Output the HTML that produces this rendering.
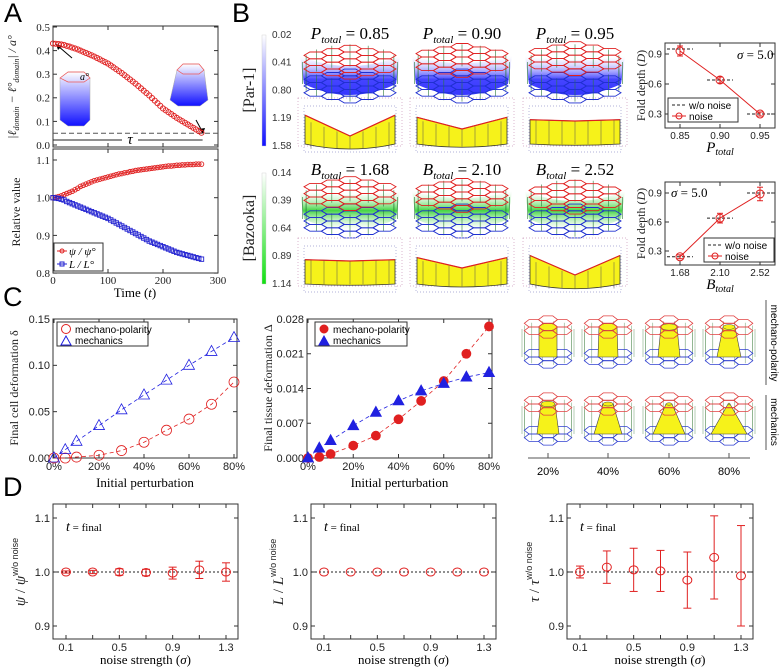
<!DOCTYPE html>
<html><head><meta charset="utf-8"><style>
html,body{margin:0;padding:0;background:#fff;}
svg{display:block;}
</style></head><body>
<svg id="fig" width="781" height="671" viewBox="0 0 781 671" xmlns="http://www.w3.org/2000/svg" font-family="'Liberation Sans', sans-serif">
<defs>
<linearGradient id="gBlue" x1="0" y1="0" x2="0" y2="1"><stop offset="0" stop-color="#fff"/><stop offset="1" stop-color="#1010ff"/></linearGradient>
<linearGradient id="gGreen" x1="0" y1="0" x2="0" y2="1"><stop offset="0" stop-color="#fff"/><stop offset="1" stop-color="#10e010"/></linearGradient>
<linearGradient id="gBlueT" x1="0" y1="0" x2="0" y2="1"><stop offset="0" stop-color="#fff" stop-opacity="0.2"/><stop offset="0.6" stop-color="#3030ff"/><stop offset="1" stop-color="#2020ff"/></linearGradient>
<linearGradient id="gGreenT" x1="0" y1="0" x2="0" y2="1"><stop offset="0" stop-color="#fff" stop-opacity="0.2"/><stop offset="0.5" stop-color="#30d030"/><stop offset="1" stop-color="#fff" stop-opacity="0.3"/></linearGradient>
</defs>
</svg>
<script>
// ---------- data ----------
const aTime = Array.from({length:55},(_, i)=>i*5);
const aDomain = [0.430,0.429,0.428,0.426,0.424,0.420,0.417,0.413,0.409,0.405,0.400,0.395,0.390,0.385,0.380,0.375,0.369,0.363,0.357,0.351,0.345,0.337,0.329,0.321,0.313,0.305,0.296,0.287,0.278,0.269,0.260,0.250,0.240,0.230,0.220,0.210,0.199,0.188,0.177,0.166,0.155,0.147,0.139,0.131,0.123,0.115,0.108,0.101,0.094,0.087,0.080,0.073,0.066,0.059,0.052];
const aPsi = [1.000,1.001,1.003,1.005,1.008,1.011,1.014,1.017,1.021,1.025,1.030,1.033,1.036,1.039,1.042,1.045,1.047,1.049,1.051,1.053,1.055,1.057,1.059,1.061,1.063,1.064,1.066,1.067,1.069,1.070,1.072,1.073,1.074,1.075,1.076,1.077,1.078,1.079,1.080,1.081,1.082,1.083,1.084,1.084,1.085,1.086,1.086,1.087,1.087,1.088,1.088,1.088,1.089,1.089,1.089];
const aL = [1.000,0.999,0.998,0.996,0.994,0.990,0.987,0.984,0.981,0.978,0.975,0.972,0.969,0.966,0.963,0.960,0.957,0.954,0.951,0.948,0.945,0.941,0.937,0.933,0.929,0.925,0.921,0.917,0.913,0.909,0.905,0.901,0.897,0.893,0.889,0.885,0.882,0.879,0.876,0.873,0.870,0.867,0.864,0.861,0.858,0.855,0.853,0.851,0.849,0.847,0.845,0.843,0.841,0.839,0.837];
const bPtotal = [0.85,0.90,0.95];
const bPnoise = [0.93,0.64,0.30];
const bPerr = [0.05,0.03,0.02];
const bPref = [0.95,0.64,0.30];
const bBtotal = [1.68,2.10,2.52];
const bBnoise = [0.24,0.64,0.89];
const bBerr = [0.02,0.05,0.07];
const bBref = [0.24,0.64,0.90];
const cPert = [0,5,10,20,30,40,50,60,70,80];
const cCellMP = [0,0,0.001,0.003,0.008,0.017,0.030,0.042,0.058,0.082];
const cCellMech = [0,0.009,0.018,0.035,0.052,0.068,0.084,0.100,0.115,0.130];
const cTisMP = [0,0.0002,0.0008,0.0025,0.0045,0.0078,0.0115,0.0155,0.0210,0.0265];
const cTisMech = [0,0.0020,0.0035,0.0065,0.0092,0.0115,0.0135,0.0150,0.0163,0.0172];
const dSigma = [0.1,0.3,0.5,0.7,0.9,1.1,1.3];
const dPsiMean = [1.000,1.000,1.000,0.999,0.998,1.004,1.000];
const dPsiErr = [0.002,0.003,0.006,0.006,0.011,0.016,0.017];
const dLMean = [1,1,1,1,1,1,1];
const dLErr = [0,0,0,0,0,0,0];
const dTauMean = [1.000,1.009,1.004,1.002,0.985,1.027,0.993];
const dTauErr = [0.011,0.030,0.040,0.038,0.052,0.077,0.093];

// ---------- helpers ----------
const NS='http://www.w3.org/2000/svg';
const svg=document.getElementById('fig');
function mk(tag,attrs,parent){const e=document.createElementNS(NS,tag);for(const k in attrs)e.setAttribute(k,attrs[k]);(parent||svg).appendChild(e);return e;}
function txt(x,y,s,attrs,parent){const e=mk('text',Object.assign({x:x,y:y},attrs||{}),parent);e.textContent=s;return e;}
function group(){return mk('g',{});}
function frame(g,x0,y0,x1,y1){const r=mk('rect',{x:x0,y:y0,width:x1-x0,height:y1-y0,fill:'none',stroke:'#333','stroke-width':1},g);

}
function yTicks(g,vals,labels,sy,x0,x1,font,size){vals.forEach((v,i)=>{const y=sy(v);
mk('line',{x1:x0,y1:y,x2:x0+4,y2:y,stroke:'#333'},g);mk('line',{x1:x1,y1:y,x2:x1-4,y2:y,stroke:'#333'},g);
const t=txt(x0-3,y+size*0.35,labels[i],{'text-anchor':'end','font-size':size,'font-family':font,fill:'#222'},g);

});}
function xTicks(g,vals,labels,sx,y0,y1,font,size,dy){vals.forEach((v,i)=>{const x=sx(v);
mk('line',{x1:x,y1:y1,x2:x,y2:y1-4,stroke:'#333'},g);mk('line',{x1:x,y1:y0,x2:x,y2:y0+4,stroke:'#333'},g);
const t=txt(x,y1+dy,labels[i],{'text-anchor':'middle','font-size':size,'font-family':font,fill:'#222'},g);

});}
function vlabel(g,x,y,s,size,font,style){const t=txt(0,0,s,{transform:`translate(${x},${y}) rotate(-90)`,'text-anchor':'middle','font-size':size,'font-family':font,fill:'#222','font-style':style||'normal'},g);return t;}
const SERIF="'Liberation Serif', serif", SANS="'Liberation Sans', sans-serif";

// panel letters
[['A',4,22],['B',232,22],['C',3,306],['D',3,496]].forEach(p=>{const t=txt(p[1],p[2],p[0],{'font-size':27,fill:'#000'});

});

// ---------- Panel A top ----------
(function(){
const g=group();
const sx=t=>53+t*165/300, sy=v=>145-v*236;
frame(g,53,26,218,147);
yTicks(g,[0,0.1,0.2,0.3,0.4,0.5],['0.0','0.1','0.2','0.3','0.4','0.5'],sy,53,218,SERIF,11);
[100,200].forEach(t=>{mk('line',{x1:sx(t),y1:147,x2:sx(t),y2:143,stroke:'#333'},g);mk('line',{x1:sx(t),y1:26,x2:sx(t),y2:30,stroke:'#333'},g);});
const th=mk('line',{x1:53,y1:sy(0.05),x2:218,y2:sy(0.05),stroke:'#555','stroke-dasharray':'5,3'},g);


mk('line',{x1:53,y1:140,x2:122,y2:140,stroke:'#222'},g);mk('line',{x1:138,y1:140,x2:sx(272),y2:140,stroke:'#222'},g);
const tau=txt(130,144,'τ',{'text-anchor':'middle','font-size':15,'font-family':SERIF,'font-style':'italic'},g);


const p1=mk('polygon',{points:'60,78 68,72 84,72 90,78 90,120 84,126 68,126 60,120',fill:'url(#gBlue)',stroke:'#aaa','stroke-width':0.5},g);


mk('polygon',{points:'60,78 68,72 84,72 90,78 84,82 68,82',fill:'none',stroke:'#e55','stroke-width':0.7},g);
txt(80,80,'a°',{'font-size':10,'font-family':SERIF,'font-style':'italic'},g);
const p2=mk('polygon',{points:'177,70 183,64 199,64 204,70 208,100 200,106 178,106 170,100',fill:'url(#gBlue)',stroke:'#aaa','stroke-width':0.5},g);


mk('polygon',{points:'177,70 183,64 199,64 204,70 199,74 183,74',fill:'none',stroke:'#e55','stroke-width':0.7},g);
mk('line',{x1:72,y1:58,x2:58,y2:46,stroke:'#000','stroke-width':1},g);mk('polygon',{points:'56,44 62,46 58,50',fill:'#000'},g);
mk('line',{x1:196,y1:120,x2:202,y2:131,stroke:'#000','stroke-width':1},g);mk('polygon',{points:'203,134 199,129 205,128',fill:'#000'},g);
aTime.forEach((t,i)=>{const c=mk('circle',{cx:sx(t),cy:sy(aDomain[i]),r:2.6,fill:'none',stroke:'#e02020','stroke-width':0.9},g);

});
const yl=vlabel(g,16,87,'',12,SERIF,'italic');
yl.innerHTML='|ℓ<tspan font-size="8" dy="3">domain</tspan><tspan dy="-3"> − ℓ°</tspan><tspan font-size="8" dy="3">domain</tspan><tspan dy="-3">| / a°</tspan>';


})();

// ---------- Panel A bottom ----------
(function(){
const g=group();
const sx=t=>53+t*165/300, sy=v=>160+(1.1-v)*377;
frame(g,53,149,218,273);
yTicks(g,[0.8,0.9,1.0,1.1],['0.8','0.9','1.0','1.1'],sy,53,218,SERIF,11);
xTicks(g,[0,100,200,300],['0','100','200','300'],sx,149,273,SERIF,11,11);
const pl=mk('polyline',{points:aTime.map((t,i)=>sx(t)+','+sy(aPsi[i])).join(' '),fill:'none',stroke:'#e02020','stroke-width':0.8},g);


aTime.forEach((t,i)=>{const c=mk('circle',{cx:sx(t),cy:sy(aPsi[i]),r:2.3,fill:'none',stroke:'#e02020','stroke-width':0.9},g);

});
aTime.forEach((t,i)=>{const c=mk('rect',{x:sx(t)-2.2,y:sy(aL[i])-2.2,width:4.4,height:4.4,fill:'none',stroke:'#2020d0','stroke-width':0.9},g);

});
const lg=mk('g',{},g);
mk('rect',{x:54,y:243,width:49,height:28,fill:'#fff',stroke:'#333'},lg);
mk('line',{x1:57,y1:251,x2:67,y2:251,stroke:'#e02020'},lg);mk('circle',{cx:62,cy:251,r:2,fill:'none',stroke:'#e02020'},lg);
txt(69,255,'ψ / ψ°',{'font-size':11,'font-family':SERIF,'font-style':'italic'},lg);
mk('line',{x1:57,y1:264,x2:67,y2:264,stroke:'#2020d0'},lg);mk('rect',{x:60,y:262,width:4,height:4,fill:'none',stroke:'#2020d0'},lg);
txt(69,268,'L / L°',{'font-size':11,'font-family':SERIF,'font-style':'italic'},lg);
const yl=vlabel(g,20,212,'Relative value',12,SERIF);


const xl=txt(135,297,'',{'text-anchor':'middle','font-size':13,'font-family':SERIF},g);
xl.innerHTML='Time (<tspan font-style="italic">t</tspan>)';


})();

// ---------- Panel B tissues ----------
function hexLattice(g,cx,cy,s,flat,R,color,w){
 for(let q=-R;q<=R;q++)for(let r=-R;r<=R;r++){if(Math.abs(q+r)>R)continue;
  const hx=cx+s*1.5*q, hy=cy+s*Math.sqrt(3)*(r+q/2)*flat;
  const pts=[];for(let k=0;k<6;k++){const a=Math.PI/3*k;pts.push((hx+s*Math.cos(a)).toFixed(1)+','+(hy+s*Math.sin(a)*flat).toFixed(1));}
  mk('polygon',{points:pts.join(' '),fill:'none',stroke:color,'stroke-width':w},g);}
}
function tissue(name,cx,cy,depth,grad,sag){
 const g=group();
 const rx=50, ry=22;
 mk('path',{d:`M${cx-rx},${cy-6} Q${cx},${cy+sag} ${cx+rx},${cy-6} L${cx+rx-4},${cy+depth} Q${cx},${cy+depth+ry} ${cx-rx+4},${cy+depth} Z`,fill:grad,opacity:0.9},g);
 for(let k=0;k<16;k++){const a=Math.PI*2*k/16;const x=cx+rx*0.95*Math.cos(a), y=cy+ry*0.8*Math.sin(a);
  mk('line',{x1:x,y1:y,x2:x,y2:y+depth,stroke:'#2a7a3a','stroke-width':0.6},g);}
 hexLattice(g,cx,cy+depth+2,11.5,0.34,2,'#2030d0',0.9);
 hexLattice(g,cx,cy-4+sag*0.3,11.5,0.34,2,'#e02020',0.9);
}
function crossSection(name,cx,cy,dip){
 const g=group();
 mk('rect',{x:cx-52,y:cy-30,width:104,height:48,fill:'none',stroke:'#c9b',"stroke-dasharray":'1,2','stroke-width':0.7},g);
 mk('rect',{x:cx-46,y:cy-22,width:92,height:46,fill:'none',stroke:'#99c',"stroke-dasharray":'1,2','stroke-width':0.7},g);
 const tL=cy-8+(dip>0?-dip*0.3:0), tC=cy-8+dip;
 mk('path',{d:`M${cx-45},${tL} L${cx},${tC} L${cx+45},${tL} L${cx+45},${cy+16} Q${cx},${cy+18+dip*0.5} ${cx-45},${cy+16} Z`,fill:'#f6f21a',stroke:'#333','stroke-width':0.8},g);
 for(let k=-3;k<=3;k++){const x=cx+k*13;mk('line',{x1:x,y1:cy-8+dip*(1-Math.abs(k)/3.5),x2:x,y2:cy+16+dip*0.3,stroke:'#555','stroke-width':0.5},g);}
 mk('line',{x1:cx-45,y1:tL,x2:cx,y2:tC,stroke:'#e02020','stroke-width':1.2},g);mk('line',{x1:cx,y1:tC,x2:cx+45,y2:tL,stroke:'#e02020','stroke-width':1.2},g);
}
const bCols=[350,462,575];
const pLabels=['0.85','0.90','0.95'], bLabels=['1.68','2.10','2.52'];
bCols.forEach((cx,i)=>{
 const t1=txt(cx,39,'',{'text-anchor':'middle','font-size':17,'font-family':SERIF});
 t1.innerHTML=`<tspan font-style="italic">P</tspan><tspan font-size="11" font-style="italic" dy="4">total</tspan><tspan dy="-4"> = ${pLabels[i]}</tspan>`;
 
 
 const t2=txt(cx,175,'',{'text-anchor':'middle','font-size':17,'font-family':SERIF});
 t2.innerHTML=`<tspan font-style="italic">B</tspan><tspan font-size="11" font-style="italic" dy="4">total</tspan><tspan dy="-4"> = ${bLabels[i]}</tspan>`;
 
 
 tissue('par1-tissue',cx,62,22,'url(#gBlueT)',[14,8,2][i]);
 crossSection('par1-cross-section',cx,128,[16,9,1][i]);
 tissue('bazooka-tissue',cx,197,22,'url(#gGreenT)',[2,8,14][i]);
 crossSection('bazooka-cross-section',cx,268,[1,8,15][i]);
});
[['par1',35,'url(#gBlue)',['0.02','0.41','0.80','1.19','1.58'],'[Par-1]',90],['bazooka',173,'url(#gGreen)',['0.14','0.39','0.64','0.89','1.14'],'[Bazooka]',228]].forEach(c=>{
 const r=mk('rect',{x:262,y:c[1],width:4,height:111,fill:c[2],stroke:'#ccc','stroke-width':0.4});
 
 
 c[3].forEach((l,i)=>{const t=txt(272,c[1]+3+i*27.7,l,{'font-size':10,fill:'#333'});
 
 });
 const v=vlabel(svg,254,c[5],c[4],16,SERIF);
 
 
});

// ---------- Panel B right plots ----------
function foldPlot(name,top,bottom,xs,noise,err,ref,xlab,sigmaPos,legPos){
 const g=group();
 const y09=top+11, y03=bottom-14, sy=v=>y09+(0.9-v)*(y03-y09)/0.6;
 const sx=v=>680+(v-xs[0])/(xs[2]-xs[0])*80;
 frame(g,665,top,775,bottom);
 yTicks(g,[0.3,0.6,0.9],['0.3','0.6','0.9'],sy,665,775,SANS,10);
 xTicks(g,xs,xs.map(v=>v.toFixed(2)),sx,top,bottom,SANS,10,11);
 xs.forEach((x,i)=>{const d=mk('line',{x1:sx(x)-13,y1:sy(ref[i]),x2:sx(x)+13,y2:sy(ref[i]),stroke:'#222','stroke-dasharray':'3,2'},g);
 
 });
 const pl=mk('polyline',{points:xs.map((x,i)=>sx(x)+','+sy(noise[i])).join(' '),fill:'none',stroke:'#e02020','stroke-width':1},g);
 
 
 xs.forEach((x,i)=>{const X=sx(x),Y=sy(noise[i]),e=(y03-y09)/0.6*err[i];
 mk('line',{x1:X,y1:Y-e,x2:X,y2:Y+e,stroke:'#e02020'},g);mk('line',{x1:X-3,y1:Y-e,x2:X+3,y2:Y-e,stroke:'#e02020'},g);mk('line',{x1:X-3,y1:Y+e,x2:X+3,y2:Y+e,stroke:'#e02020'},g);
 const c=mk('circle',{cx:X,cy:Y,r:4,fill:'none',stroke:'#e02020'},g);
 
 });
 const s=txt(sigmaPos[0],sigmaPos[1],'',{'font-size':13,'font-family':SERIF},g);
 s.innerHTML='<tspan font-style="italic">σ</tspan> = 5.0';
 
 
 const lg=mk('g',{},g);
 mk('rect',{x:legPos[0],y:legPos[1],width:legPos[2],height:24,fill:'#fff',stroke:'#333'},lg);
 mk('line',{x1:legPos[0]+4,y1:legPos[1]+7,x2:legPos[0]+18,y2:legPos[1]+7,stroke:'#222','stroke-dasharray':'3,2'},lg);
 txt(legPos[0]+21,legPos[1]+11,'w/o noise',{'font-size':10},lg);
 mk('line',{x1:legPos[0]+4,y1:legPos[1]+18,x2:legPos[0]+18,y2:legPos[1]+18,stroke:'#e02020'},lg);
 mk('circle',{cx:legPos[0]+11,cy:legPos[1]+18,r:3,fill:'none',stroke:'#e02020'},lg);
 txt(legPos[0]+21,legPos[1]+22,'noise',{'font-size':10},lg);
 const yl=vlabel(g,645,(top+bottom)/2,'',12,SERIF);
 yl.innerHTML='Fold depth (<tspan font-style="italic">D</tspan>)';
 
 
 const xl=txt(720,bottom+24,'',{'text-anchor':'middle','font-size':15,'font-family':SERIF,'font-style':'italic'},g);
 xl.innerHTML=`${xlab}<tspan font-size="10" dy="3">total</tspan>`;
 
 
}
foldPlot('fold-depth-par1-plot',43,128,bPtotal,bPnoise,bPerr,bPref,'P',[737,59],[668,98,70]);
foldPlot('fold-depth-bazooka-plot',182,265,bBtotal,bBnoise,bBerr,bBref,'B',[671,197],[704,238,70]);

// ---------- Panel C plots ----------
function cPlot(name,x0,x1,ymax,yt,ylab,lx,s1,s2,filled,legX,legW,labFmt){
 const g=group();
 const sx=p=>x0+1+p/80*(x1-x0-4), sy=v=>458-v/ymax*139;
 frame(g,x0,319,x1,458);
 yTicks(g,yt,yt.map(labFmt),sy,x0,x1,SANS,11);
 xTicks(g,[0,20,40,60,80],['0%','20%','40%','60%','80%'],sx,319,458,SANS,11,12);
 [[s1,'#e02020','mechano-polarity'],[s2,'#2020e0','mechanics']].forEach((s,si)=>{
  const pl=mk('polyline',{points:cPert.map((p,i)=>sx(p)+','+sy(s[0][i])).join(' '),fill:'none',stroke:s[1],'stroke-width':0.8,'stroke-dasharray':'4,3'},g);
  
  
  cPert.forEach((p,i)=>{const X=sx(p),Y=sy(s[0][i]);let m;
   if(si===0) m=mk('circle',{cx:X,cy:Y,r:filled?4.5:5,fill:filled?s[1]:'none',stroke:s[1],'stroke-width':0.8},g);
   else m=mk('polygon',{points:`${X},${Y-6} ${X-5.5},${Y+4} ${X+5.5},${Y+4}`,fill:filled?s[1]:'none',stroke:s[1],'stroke-width':0.8},g);
   
   });
 });
 const lg=mk('g',{},g);
 mk('rect',{x:legX,y:322,width:legW,height:24,fill:'#fff',stroke:'#333'},lg);
 mk('circle',{cx:legX+9,cy:329,r:filled?4:4.5,fill:filled?'#e02020':'none',stroke:'#e02020'},lg);
 txt(legX+18,333,'mechano-polarity',{'font-size':10},lg);
 mk('polygon',{points:`${legX+9},${336} ${legX+4},${345} ${legX+14},${345}`,fill:filled?'#2020e0':'none',stroke:'#2020e0'},lg);
 txt(legX+18,344,'mechanics',{'font-size':10},lg);
 const yl=vlabel(g,lx,388,ylab,12,SERIF);
 
 
 const xl=txt((x0+x1)/2,487,'Initial perturbation',{'text-anchor':'middle','font-size':13,'font-family':SERIF},g);
 
 
}
cPlot('cell-deformation-plot',53,237,0.15,[0,0.05,0.10,0.15],'Final cell deformation δ',18,cCellMP,cCellMech,false,57,91,v=>v.toFixed(2));
cPlot('tissue-deformation-plot',307,492,0.028,[0,0.007,0.014,0.021,0.028],'Final tissue deformation Δ',272,cTisMP,cTisMech,true,315,92,v=>v.toFixed(3));

// ---------- Panel C right tissues ----------
function smallTissue(cx,cy,topW,botW){
 const g=group();
 for(let k=0;k<14;k++){const a=Math.PI*2*k/14;const x=cx+26*Math.cos(a),y=cy-14+8*Math.sin(a);
  mk('line',{x1:x,y1:y,x2:x,y2:y+28,stroke:'#6a9a6a','stroke-width':0.5},g);}
 hexLattice(g,cx,cy+14,9.5,0.45,1,'#3040d0',0.8);
 mk('polygon',{points:`${cx-topW},${cy-16} ${cx+topW},${cy-16} ${cx+botW},${cy+14} ${cx-botW},${cy+14}`,fill:'#f6f21a',stroke:'#444','stroke-width':0.6},g);
 mk('ellipse',{cx:cx,cy:cy-16,rx:topW,ry:Math.max(1,topW*0.4),fill:'#f6f21a',stroke:'#444','stroke-width':0.5},g);
 hexLattice(g,cx,cy-16,9.5,0.45,1,'#e04040',0.8);
}
const crX=[548,608,669,729];
crX.forEach((x,i)=>{smallTissue(x,343,[9,9,8,6][i],[9,10,11,12][i]);smallTissue(x,420,[7,5,3,1][i],[11,14,16,18][i]);});
(function(){const g=group();
mk('line',{x1:528,y1:458,x2:750,y2:458,stroke:'#555'},g);
['20%','40%','60%','80%'].forEach((l,i)=>{mk('line',{x1:crX[i],y1:453,x2:crX[i],y2:458,stroke:'#555'},g);
const t=txt(crX[i],475,l,{'text-anchor':'middle','font-size':11},g);

});
mk('line',{x1:766,y1:300,x2:766,y2:385,stroke:'#555'},g);mk('line',{x1:766,y1:395,x2:766,y2:450,stroke:'#555'},g);
const a=txt(0,0,'mechano-polarity',{transform:'translate(771,343) rotate(90)','text-anchor':'middle','font-size':10},g);


const b=txt(0,0,'mechanics',{transform:'translate(771,422) rotate(90)','text-anchor':'middle','font-size':10},g);

})();

// ---------- Panel D ----------
function dPlot(name,x0,x1,mean,err,sym){
 const g=group();
 const sx=s=>x0+13+(s-0.1)/1.2*(x1-x0-25), sy=v=>572-(v-1)*540;
 frame(g,x0,504,x1,639);
 yTicks(g,[0.9,1.0,1.1],['0.9','1.0','1.1'],sy,x0,x1,SANS,11);
 xTicks(g,[0.1,0.5,0.9,1.3],['0.1','0.5','0.9','1.3'],sx,504,639,SANS,11,12);
 [0.3,0.7,1.1].forEach(s=>{mk('line',{x1:sx(s),y1:639,x2:sx(s),y2:635,stroke:'#333'},g);mk('line',{x1:sx(s),y1:504,x2:sx(s),y2:508,stroke:'#333'},g);});
 const rl=mk('line',{x1:x0,y1:sy(1),x2:x1,y2:sy(1),stroke:'#222','stroke-dasharray':'2,2'},g);
 
 
 dSigma.forEach((s,i)=>{const X=sx(s),Y=sy(mean[i]),e=err[i]*540;
  if(e>0){mk('line',{x1:X,y1:Y-e,x2:X,y2:Y+e,stroke:'#e02020'},g);mk('line',{x1:X-4,y1:Y-e,x2:X+4,y2:Y-e,stroke:'#e02020'},g);mk('line',{x1:X-4,y1:Y+e,x2:X+4,y2:Y+e,stroke:'#e02020'},g);}
  const c=mk('ellipse',{cx:X,cy:Y,rx:4.5,ry:4,fill:'none',stroke:'#e02020'},g);
  
  });
 const t=txt(x0+13,531,'',{'font-size':14,'font-family':SERIF},g);
 t.innerHTML='<tspan font-style="italic">t</tspan><tspan font-size="11"> = final</tspan>';
 
 
 const yl=vlabel(g,x0-28,572,'',15,SERIF);
 yl.innerHTML=`<tspan font-style="italic">${sym}</tspan> / <tspan font-style="italic">${sym}</tspan><tspan font-size="9" font-family="'Liberation Sans', sans-serif" dy="-7">w/o noise</tspan>`;
 
 
 const xl=txt((x0+x1)/2,664,'',{'text-anchor':'middle','font-size':13,'font-family':SERIF},g);
 xl.innerHTML='noise strength (<tspan font-style="italic">σ</tspan>)';
 
 
}
dPlot('psi-noise-plot',53,238,dPsiMean,dPsiErr,'ψ');
dPlot('length-noise-plot',311,496,dLMean,dLErr,'L');
dPlot('tau-noise-plot',567,753,dTauMean,dTauErr,'τ');
</script>
</body></html>
